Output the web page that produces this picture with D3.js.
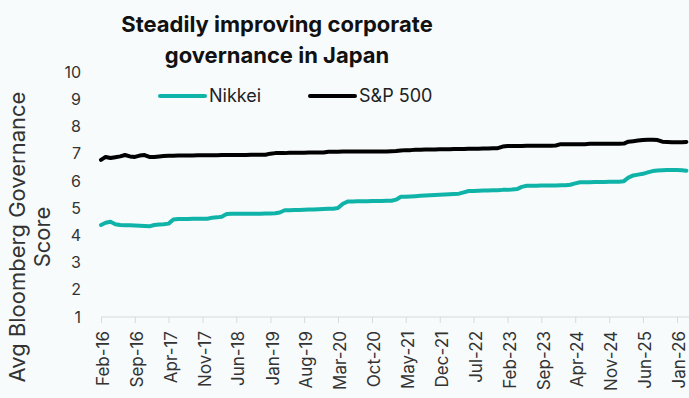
<!DOCTYPE html>
<html>
<head>
<meta charset="utf-8">
<script src="https://cdn.jsdelivr.net/npm/d3@7"></script>
<style>
  html, body { margin: 0; padding: 0; background: #f7fbfc; }
  svg { display: block; font-family: Inter, 'Noto Sans', sans-serif; }
</style>
</head>
<body>
<div id="chart"></div>
<script>
'use strict';

// monthly readings, Feb-16 .. Mar-26
const startMonth = new Date(2016, 1, 1);

const nikkei = [
  4.38, 4.46, 4.50, 4.41, 4.38, 4.37, 4.37, 4.36, 4.35, 4.34, 4.33, 4.38,
  4.40, 4.41, 4.43, 4.58, 4.60, 4.60, 4.60, 4.61, 4.61, 4.61, 4.61, 4.65,
  4.66, 4.68, 4.78, 4.79, 4.79, 4.79, 4.79, 4.79, 4.79, 4.79, 4.80, 4.80,
  4.81, 4.84, 4.92, 4.92, 4.93, 4.93, 4.94, 4.95, 4.95, 4.96, 4.97, 4.98,
  4.98, 5.00, 5.16, 5.24, 5.24, 5.25, 5.25, 5.25, 5.26, 5.26, 5.26, 5.27,
  5.27, 5.31, 5.42, 5.42, 5.43, 5.44, 5.45, 5.46, 5.47, 5.48, 5.49, 5.50,
  5.51, 5.52, 5.53, 5.58, 5.63, 5.63, 5.64, 5.65, 5.65, 5.66, 5.66, 5.67,
  5.67, 5.68, 5.70, 5.78, 5.82, 5.82, 5.82, 5.83, 5.83, 5.83, 5.83, 5.84,
  5.84, 5.86, 5.91, 5.95, 5.95, 5.95, 5.96, 5.96, 5.96, 5.97, 5.97, 5.97,
  5.99, 6.12, 6.20, 6.23, 6.26, 6.31, 6.36, 6.38, 6.39, 6.40, 6.40, 6.40,
  6.39, 6.37
];

const sp500 = [
  6.77, 6.88, 6.84, 6.87, 6.90, 6.95, 6.90, 6.88, 6.93, 6.95, 6.88, 6.88,
  6.90, 6.91, 6.92, 6.92, 6.93, 6.93, 6.93, 6.93, 6.94, 6.94, 6.94, 6.94,
  6.94, 6.95, 6.95, 6.95, 6.95, 6.95, 6.95, 6.96, 6.96, 6.96, 6.96, 7.00,
  7.02, 7.02, 7.02, 7.03, 7.03, 7.03, 7.03, 7.04, 7.04, 7.04, 7.04, 7.07,
  7.07, 7.07, 7.08, 7.08, 7.08, 7.08, 7.08, 7.08, 7.08, 7.08, 7.08, 7.08,
  7.09, 7.10, 7.12, 7.13, 7.13, 7.14, 7.14, 7.15, 7.15, 7.15, 7.16, 7.16,
  7.16, 7.17, 7.17, 7.17, 7.18, 7.18, 7.18, 7.19, 7.19, 7.20, 7.20, 7.26,
  7.28, 7.28, 7.28, 7.28, 7.29, 7.29, 7.29, 7.29, 7.29, 7.29, 7.30, 7.35,
  7.35, 7.35, 7.35, 7.35, 7.35, 7.36, 7.36, 7.36, 7.36, 7.36, 7.36, 7.36,
  7.37, 7.44, 7.46, 7.48, 7.50, 7.51, 7.51, 7.50, 7.44, 7.43, 7.42, 7.42,
  7.42, 7.43
];

const yTicks = [1, 2, 3, 4, 5, 6, 7, 8, 9, 10];
const titleLines = ['Steadily improving corporate', 'governance in Japan'];
const yTitleLines = ['Avg Bloomberg Governance', 'Score'];
const seriesNames = ['Nikkei', 'S&P 500'];
const seriesColors = ['#0fb3a8', '#000000'];

const width = 689;
const height = 398;

const dates = nikkei.map((d, i) => d3.timeMonth.offset(startMonth, i));
const xTicks = d3.range(0, 120, 7).map((m) => d3.timeMonth.offset(startMonth, m));

const x = d3.scaleTime()
  .domain([startMonth, d3.timeMonth.offset(startMonth, 119)])
  .range([101, 677]);
const y = d3.scaleLinear().domain([1, 10]).range([317, 72]);

const $svg = d3.select('#chart').append('svg')
  .attr('width', width)
  .attr('height', height);

$svg.append('rect').attr('width', width).attr('height', height).attr('fill', '#f7fbfc');

// title
$svg.append('g').selectAll('text')
  .data(titleLines)
  .enter()
  .append('text')
  .attr('x', 277)
  .attr('y', (d, i) => 32 + i * 31)
  .attr('text-anchor', 'middle')
  .attr('font-size', 22)
  .attr('font-weight', 700)
  .attr('fill', '#111')
  .text((d) => d);

// x axis
const xAxis = d3.axisBottom(x)
  .tickValues(xTicks)
  .tickFormat(d3.timeFormat('%b-%y'))
  .tickSize(6)
  .tickSizeOuter(0);

const $xAxis = $svg.append('g')
  .attr('transform', 'translate(0,' + y(1) + ')')
  .call(xAxis);
$xAxis.select('.domain').attr('d', 'M' + x.range()[0] + ',0H' + width).attr('stroke', '#d9d9d9');
$xAxis.selectAll('.tick line').attr('stroke', '#d9d9d9');
$xAxis.selectAll('.tick text')
  .attr('font-size', 17)
  .attr('font-family', 'Inter, sans-serif')
  .attr('fill', '#333')
  .attr('text-anchor', 'end')
  .attr('transform', 'rotate(-90)')
  .attr('x', -14)
  .attr('y', 0)
  .attr('dy', '0.45em');

// y axis (labels only)
const yAxis = d3.axisLeft(y).tickValues(yTicks).tickSize(0).tickPadding(0);
const $yAxis = $svg.append('g')
  .attr('transform', 'translate(81,0)')
  .call(yAxis);
$yAxis.select('.domain').remove();
$yAxis.selectAll('.tick text')
  .attr('font-size', 16)
  .attr('font-family', 'Inter, sans-serif')
  .attr('fill', '#333');

// y title
$svg.append('g')
  .attr('transform', 'translate(0,237) rotate(-90)')
  .selectAll('text')
  .data(yTitleLines)
  .enter()
  .append('text')
  .attr('x', 0)
  .attr('y', (d, i) => 25 + i * 25)
  .attr('text-anchor', 'middle')
  .attr('font-size', 22)
  .attr('fill', '#333')
  .text((d) => d);

// lines
const line = d3.line()
  .x((d) => x(d.date))
  .y((d) => y(d.value));

[nikkei, sp500].forEach((values, k) => {
  $svg.append('path')
    .datum(values.map((v, i) => ({ date: dates[i], value: v })))
    .attr('fill', 'none')
    .attr('stroke', seriesColors[k])
    .attr('stroke-width', 4)
    .attr('stroke-linejoin', 'round')
    .attr('stroke-linecap', 'round')
    .attr('d', line);
});

// legend
const $legend = $svg.append('g').selectAll('.legend')
  .data(seriesNames)
  .enter()
  .append('g')
  .attr('class', 'legend')
  .attr('transform', (d, i) => 'translate(' + (160 + i * 150) + ',96)');

$legend.append('line')
  .attr('x1', 0)
  .attr('x2', 45)
  .attr('stroke', (d, i) => seriesColors[i])
  .attr('stroke-width', 4)
  .attr('stroke-linecap', 'round');

$legend.append('text')
  .attr('x', 49)
  .attr('y', 6)
  .attr('font-size', 18)
  .attr('fill', '#222')
  .text((d) => d);
</script>
</body>
</html>
